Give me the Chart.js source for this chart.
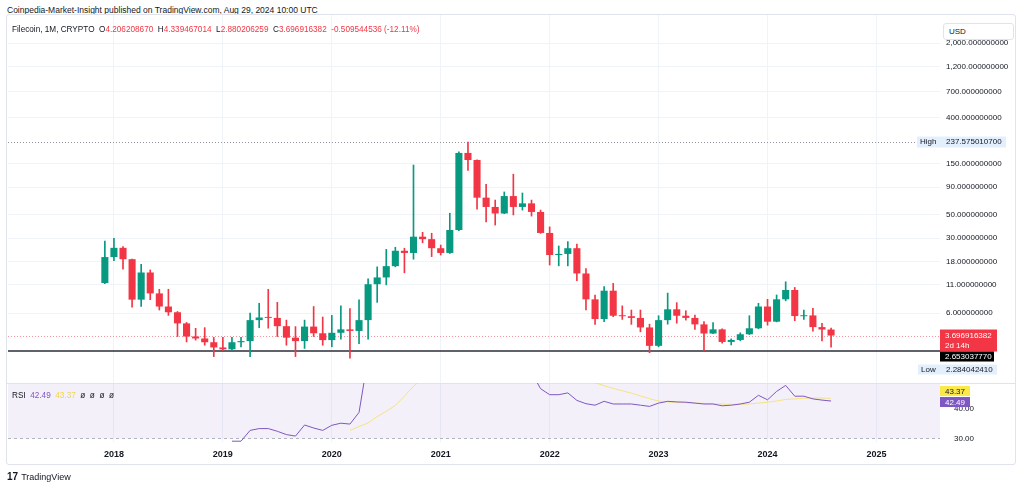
<!DOCTYPE html>
<html>
<head>
<meta charset="utf-8">
<script src="https://cdn.jsdelivr.net/npm/chart.js@4.4.1/dist/chart.umd.min.js"></script>
<style>
  body { margin: 0; background: #fff; font-family: "Liberation Sans", Arial, sans-serif; }
  #wrap { position: relative; width: 1024px; height: 489px; overflow: hidden; }
  #pub { position: absolute; left: 7px; top: 5px; font-size: 8.5px; color: #131722; }
  #frame { position: absolute; left: 6px; top: 14px; width: 1010px; height: 451px; border: 1px solid #e0e3eb; border-radius: 3px; box-sizing: border-box; }
  canvas { position: absolute; left: 0; top: 0; }
  #legend { position: absolute; left: 12px; top: 25px; font-size: 8.2px; color: #131722; white-space: pre; }
  .red { color: #f23645; }
  #rsiLeg { position: absolute; left: 12px; top: 391px; font-size: 8.2px; color: #131722; white-space: pre; }
  #usd { position: absolute; left: 943px; top: 23px; width: 71px; height: 17px; border: 1px solid #e0e3eb; border-radius: 3px; background: #fff; font-size: 8px; line-height: 16px; padding-left: 5px; box-sizing: border-box; color: #131722; }
  #tv { position: absolute; left: 7px; top: 471px; font-size: 9px; color: #131722; }
  #tv b { font-size: 10px; font-weight: 900; margin-right: 3px; }
</style>
</head>
<body>
<div id="wrap">
  <div id="pub">Coinpedia-Market-Insight published on TradingView.com, Aug 29, 2024 10:00 UTC</div>
  <div id="frame"></div>
  <canvas id="chart" width="1024" height="489"></canvas>
  <div id="legend">Filecoin, 1M, CRYPTO  O<span class="red">4.206208670</span>  H<span class="red">4.339467014</span>  L<span class="red">2.880206259</span>  C<span class="red">3.696916382</span>  <span class="red">-0.509544536 (-12.11%)</span></div>
  <div id="rsiLeg">RSI  <span style="color:#7e57c2">42.49</span>  <span style="color:#f0d64f">43.37</span>  ø  ø  ø  ø</div>
  <div id="usd">USD</div>
  <div id="tv"><b>17</b>TradingView</div>
</div>
<script>
// monthly candles, Filecoin 1M
const months = ['2017-12',
  '2018-01','2018-02','2018-03','2018-04','2018-05','2018-06','2018-07','2018-08','2018-09','2018-10','2018-11','2018-12',
  '2019-01','2019-02','2019-03','2019-04','2019-05','2019-06','2019-07','2019-08','2019-09','2019-10','2019-11','2019-12',
  '2020-01','2020-02','2020-03','2020-04','2020-05','2020-06','2020-07','2020-08','2020-09','2020-10','2020-11','2020-12',
  '2021-01','2021-02','2021-03','2021-04','2021-05','2021-06','2021-07','2021-08','2021-09','2021-10','2021-11','2021-12',
  '2022-01','2022-02','2022-03','2022-04','2022-05','2022-06','2022-07','2022-08','2022-09','2022-10','2022-11','2022-12',
  '2023-01','2023-02','2023-03','2023-04','2023-05','2023-06','2023-07','2023-08','2023-09','2023-10','2023-11','2023-12',
  '2024-01','2024-02','2024-03','2024-04','2024-05','2024-06','2024-07','2024-08'];

const opens = [11.45,
  20.0, 24.4, 19.1, 8.0, 14.35, 9.15, 6.9, 6.1, 4.8, 3.62, 3.47, 3.2,
  2.86, 2.75, 3.2, 3.28, 5.15, 5.45, 5.4, 4.52, 3.53, 3.28, 4.48, 3.88,
  3.35, 3.92, 4.22, 4.08, 5.15, 11.15, 12.9, 16.45, 22.9, 21.85, 31.0, 29.4,
  24.2, 21.85, 35.8, 188, 161.5, 71.8, 58.8, 51.1, 74.3, 58.8, 63.5, 52.8,
  33.6, 20.9, 21.4, 24.2, 14.05, 8.05, 5.27, 9.7, 5.66, 5.6, 5.4, 4.4,
  2.96, 5.15, 6.5, 5.66, 5.4, 4.7, 3.86, 4.22, 3.22, 3.36, 3.8, 4.32,
  6.9, 4.98, 8.06, 9.85, 5.6, 5.7, 4.43, 4.206208670];
const highs = [28.2,
  29.9, 25.1, 19.2, 17.1, 15.15, 10.0, 10.0, 6.2, 4.9, 4.32, 4.38, 3.55,
  3.55, 3.55, 3.55, 6.0, 7.4, 10.0, 7.55, 5.15, 4.48, 5.15, 6.9, 5.5,
  5.7, 7.0, 6.6, 7.96, 12.5, 16.2, 23.6, 24.7, 24.2, 145, 34.1, 33.4,
  25.9, 51.4, 193, 237.575010700, 162.5, 95.8, 68.2, 81.2, 119, 79.4, 68.2, 55.0,
  38.3, 25.4, 27.9, 26.5, 15.6, 8.85, 10.6, 11.35, 7.0, 6.4, 6.4, 4.72,
  5.66, 9.22, 7.5, 6.3, 5.74, 5.0, 4.88, 4.27, 3.44, 3.92, 5.66, 7.4,
  8.06, 8.85, 11.75, 10.4, 6.4, 6.65, 4.8, 4.339467014];
const lows = [11.3,
  18.5, 15.4, 6.8, 6.9, 8.0, 6.4, 5.7, 3.62, 3.22, 3.35, 3.0, 2.35,
  2.68, 2.7, 2.9, 2.35, 4.38, 4.33, 3.62, 3.0, 2.35, 2.8, 3.62, 3.0,
  2.9, 3.42, 2.27, 3.1, 3.42, 7.55, 11.0, 16.2, 14.25, 19.1, 27.2, 20.2,
  20.9, 21.6, 35.3, 129, 56.1, 42.7, 39.8, 50.9, 49.5, 55.0, 48.3, 33.3,
  16.85, 16.55, 16.55, 12.05, 6.4, 4.7, 4.97, 5.55, 5.23, 4.7, 4.0, 2.55,
  2.9, 4.72, 4.82, 5.15, 4.22, 2.67, 3.84, 3.13, 3.02, 3.3, 3.77, 4.27,
  4.62, 4.96, 7.8, 5.08, 5.22, 4.05, 3.3, 2.880206259];
const closes = [20.0,
  24.4, 19.1, 8.0, 14.35, 9.15, 6.9, 6.1, 4.8, 3.62, 3.47, 3.2, 2.86,
  2.75, 3.2, 3.28, 5.15, 5.45, 5.4, 4.52, 3.53, 3.28, 4.48, 3.88, 3.35,
  3.92, 4.22, 4.08, 5.15, 11.15, 12.9, 16.45, 22.9, 21.85, 31.0, 29.4, 24.2,
  21.85, 35.8, 188, 161.5, 71.8, 58.8, 51.1, 74.3, 58.8, 63.5, 52.8, 33.6,
  20.9, 21.4, 24.2, 14.05, 8.05, 5.27, 9.7, 5.66, 5.6, 5.4, 4.4, 2.96,
  5.15, 6.5, 5.66, 5.4, 4.7, 3.86, 4.22, 3.22, 3.36, 3.8, 4.32, 6.9,
  4.98, 8.06, 9.85, 5.62, 5.7, 4.43, 4.206, 3.696916382];

const rsi = [null,
  null, null, null, null, null, null, null, null, null, null, null, null,
  null, 29.1, 29.1, 32.7, 33.3, 33.3, 32.4, 31.3, 30.8, 34.5, 33.5, 32.7,
  34.4, 35.1, 34.8, 38.7, 57, 59, 63, 67, 65, 68, 67, 63,
  61, 67, 82, 79, 63, 60, 58, 62, 58, 59, 52, 46.6,
  44.6, 44.6, 45.2, 42.7, 41.6, 41.1, 42.4, 41.5, 41.5, 41.5, 41.1, 40.7,
  41.8, 42.4, 42.2, 42.1, 41.8, 41.5, 41.5, 40.9, 41.1, 41.5, 42.1, 44.4,
  42.9, 45.7, 47.7, 44.1, 44.1, 43.2, 42.8, 42.49];
const rsiMa = [null,
  null, null, null, null, null, null, null, null, null, null, null, null,
  null, null, null, null, null, null, null, null, null, null, null, null,
  null, null, 32.7, 34.0, 35.2, 37.3, 39.1, 41.1, 44.1, 47.4, 50, 53,
  55, 58, 61, 63, 64, 65, 65, 65, 65, 64, 62, 60,
  58, 55, 53, 51, 49.5, 48.6, 47.6, 46.7, 45.9, 45.1, 44.2, 43.3,
  42.5, 42.2, 42.0, 41.9, 41.8, 41.7, 41.6, 41.5, 41.4, 41.4, 41.5, 41.8,
  42.1, 42.5, 43.0, 43.2, 43.4, 43.5, 43.5, 43.37];

const priceTicks = [2000, 1200, 700, 400, 150, 90, 50, 30, 18, 11, 6];
const rsiTicks = [30, 40];
const yearLabels = ['2018', '2019', '2020', '2021', '2022', '2023', '2024', '2025'];

const lastClose = 3.696916382;
const lineLevel = 2.653037770;
const allHigh = 237.575010700;
const allLow = 2.284042410;

const UP = '#089981', DOWN = '#f23645';
const FONT = '"Liberation Sans", Arial, sans-serif';

const idx = months.map(m => {
  const [y, mo] = m.split('-').map(Number);
  return (y - 2017) * 12 + mo - 1;
});
const yearIdx = yearLabels.map(y => (Number(y) - 2017) * 12);
const colors = closes.map((c, i) => c >= opens[i] ? UP : DOWN);

const wickData = idx.map((x, i) => ({x, y: [lows[i], highs[i]]}));
const bodyData = idx.map((x, i) => ({x, y: [opens[i], closes[i]]}));
const rsiData = idx.map((x, i) => ({x, y: rsi[i]})).filter(p => p.y !== null);
const maData = idx.map((x, i) => ({x, y: rsiMa[i]})).filter(p => p.y !== null);

function fmtPrice(v) {
  return v.toLocaleString('en-US', {minimumFractionDigits: 9, maximumFractionDigits: 9});
}

function tag(ctx, x, y, w, h, bg, text, color) {
  ctx.fillStyle = bg;
  ctx.fillRect(x, y, w, h);
  ctx.fillStyle = color;
  ctx.textBaseline = 'middle';
  ctx.textAlign = 'left';
  ctx.fillText(text, x + 5, y + h / 2 + 0.5);
}

const overlay = {
  id: 'overlay',
  beforeDatasetsDraw(chart) {
    const ctx = chart.ctx;
    const {left, right} = chart.chartArea;
    const y = chart.scales.y, yr = chart.scales.yr;
    ctx.save();
    // RSI band 30..70
    const t = Math.max(yr.top, yr.getPixelForValue(70));
    const b = yr.getPixelForValue(30);
    ctx.fillStyle = 'rgba(126, 87, 194, 0.09)';
    ctx.fillRect(left, t, right - left, b - t);
    ctx.strokeStyle = '#b2b5be';
    ctx.lineWidth = 1;
    ctx.setLineDash([3, 3]);
    ctx.beginPath();
    ctx.moveTo(left, Math.round(b) + 0.5);
    ctx.lineTo(right, Math.round(b) + 0.5);
    ctx.stroke();
    // high line
    ctx.setLineDash([1, 2]);
    ctx.strokeStyle = '#9598a1';
    const yh = Math.round(y.getPixelForValue(allHigh)) + 0.5;
    ctx.beginPath(); ctx.moveTo(left, yh); ctx.lineTo(right, yh); ctx.stroke();
    // last price line
    ctx.strokeStyle = 'rgba(242, 54, 69, 0.55)';
    const yc = Math.round(y.getPixelForValue(lastClose)) + 0.5;
    ctx.beginPath(); ctx.moveTo(left, yc); ctx.lineTo(right, yc); ctx.stroke();
    // horizontal level
    ctx.setLineDash([]);
    ctx.strokeStyle = '#2a2e39';
    ctx.lineWidth = 1.5;
    const yl = y.getPixelForValue(lineLevel);
    ctx.beginPath(); ctx.moveTo(left, yl); ctx.lineTo(right, yl); ctx.stroke();
    // pane separator
    ctx.strokeStyle = '#e0e3eb';
    ctx.lineWidth = 1;
    ctx.beginPath(); ctx.moveTo(left - 2, Math.round(yr.top) + 0.5); ctx.lineTo(1015, Math.round(yr.top) + 0.5); ctx.stroke();
    ctx.restore();
  },
  afterDraw(chart) {
    const ctx = chart.ctx;
    const y = chart.scales.y, yr = chart.scales.yr;
    const ax = y.left;
    ctx.save();
    ctx.font = '8px ' + FONT;
    // High
    const yh = y.getPixelForValue(allHigh);
    ctx.fillStyle = '#e3effd';
    ctx.fillRect(917, yh - 5.5, 89, 11);
    ctx.fillStyle = '#131722';
    ctx.textBaseline = 'middle';
    ctx.fillText('High', 920, yh);
    ctx.fillText(fmtPrice(allHigh), ax + 6, yh);
    // last close
    const yc = y.getPixelForValue(lastClose);
    ctx.fillStyle = DOWN;
    ctx.fillRect(ax, yc - 6, 57, 22);
    ctx.fillStyle = '#fff';
    ctx.fillText(fmtPrice(lastClose), ax + 5, yc);
    ctx.fillText('2d 14h', ax + 5, yc + 10);
    // level
    tag(ctx, ax, yc + 16, 54, 10, '#000', fmtPrice(lineLevel), '#fff');
    // Low
    ctx.fillStyle = '#e3effd';
    ctx.fillRect(918, yc + 29, 79, 10);
    ctx.fillStyle = '#131722';
    ctx.fillText('Low', 921, yc + 34);
    ctx.fillText(fmtPrice(allLow), ax + 6, yc + 34);
    // RSI tags: RSI at its value, MA stacked above it
    const yp = yr.getPixelForValue(rsi[rsi.length - 1]);
    tag(ctx, ax, yp - 4, 30, 10, '#7e57c2', rsi[rsi.length - 1].toFixed(2), '#fff');
    tag(ctx, ax, yp - 15, 30, 10, '#fbe94a', rsiMa[rsiMa.length - 1].toFixed(2), '#131722');
    ctx.restore();
  }
};

new Chart(document.getElementById('chart'), {
  type: 'bar',
  data: {
    datasets: [
      {
        type: 'bar', data: wickData, yAxisID: 'y', grouped: false,
        backgroundColor: colors, barThickness: 1, minBarLength: 1
      },
      {
        type: 'bar', data: bodyData, yAxisID: 'y', grouped: false,
        backgroundColor: colors, barPercentage: 0.78, categoryPercentage: 1, minBarLength: 1
      },
      {
        type: 'line', data: rsiData, yAxisID: 'yr', borderColor: '#7e57c2',
        borderWidth: 1, pointRadius: 0, tension: 0
      },
      {
        type: 'line', data: maData, yAxisID: 'yr', borderColor: 'rgba(245, 222, 90, 0.75)',
        borderWidth: 1, pointRadius: 0, tension: 0.3
      }
    ]
  },
  options: {
    responsive: false,
    animation: false,
    layout: {padding: {left: 8, top: 15, right: 9, bottom: 25}},
    plugins: {legend: {display: false}, tooltip: {enabled: false}},
    scales: {
      x: {
        type: 'linear', position: 'bottom', min: 0.33, max: 103, offset: false,
        afterBuildTicks: s => { s.ticks = yearIdx.map(v => ({value: v})); },
        afterFit: s => { s.height = 22; },
        ticks: {
          callback: v => String(2017 + Math.round(v / 12)),
          font: {family: FONT, size: 9, weight: 'bold'}, color: '#131722',
          padding: 7, maxRotation: 0, autoSkip: false
        },
        grid: {color: '#f0f3fa', drawTicks: false, offset: false},
        border: {display: false}
      },
      y: {
        type: 'logarithmic', position: 'right', stack: 'pane', stackWeight: 368,
        min: 1.331, max: 3657, bounds: 'data',
        afterBuildTicks: s => { s.ticks = priceTicks.map(v => ({value: v})); },
        afterFit: s => { s.width = 75; },
        ticks: {
          callback: v => fmtPrice(v),
          font: {family: FONT, size: 8}, color: '#131722', padding: 6
        },
        grid: {color: '#f0f3fa', drawTicks: false},
        border: {display: false}
      },
      yr: {
        type: 'linear', position: 'right', stack: 'pane', stackWeight: 59,
        min: 28.83, max: 48.5,
        afterBuildTicks: s => { s.ticks = rsiTicks.map(v => ({value: v})); },
        afterFit: s => { s.width = 75; },
        ticks: {
          callback: v => v.toFixed(2),
          font: {family: FONT, size: 8}, color: '#131722', padding: 6
        },
        grid: {display: false},
        border: {display: false}
      }
    }
  },
  plugins: [overlay]
});
</script>
</body>
</html>
